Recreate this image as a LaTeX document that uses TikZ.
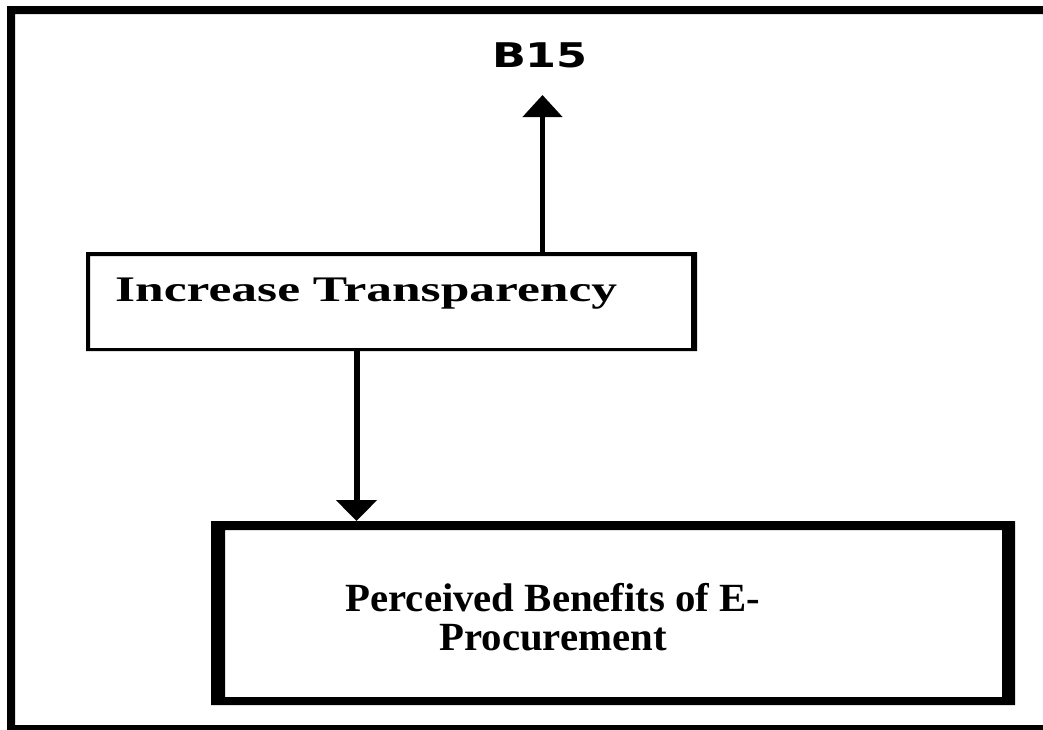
\documentclass[tikz,border=0pt]{standalone}
\usepackage{fontspec}
\setmainfont{Liberation Serif}
\newfontfamily\labelsans{DejaVu Sans}
\usetikzlibrary{arrows.meta}

\tikzset{
  frame/.style={fill=black, even odd rule},
  boxtext/.style={font=\bfseries\fontsize{36}{40}\selectfont, inner sep=0pt},
  bigtext/.style={font=\bfseries\fontsize{40}{40}\selectfont, inner sep=0pt, anchor=base},
  tagtext/.style={font=\labelsans\bfseries\fontsize{34}{40}\selectfont, inner sep=0pt},
  flow/.style={draw=black, line width=4.5pt, -{Triangle[length=22pt,width=39pt]}},
  boxshape/.style={rectangle, inner sep=0pt, outer sep=0pt}
}

\begin{document}
\begin{tikzpicture}[x=1pt, y=-1pt]
  \useasboundingbox (0,0) rectangle (1043,729);
  \clip (0,0) rectangle (1043,729);

  % outer frame (right and bottom edges run off the page)
  \fill[frame] (7,6) rectangle (1070,760) (15,14) rectangle (1060,725);

  % box: Increase Transparency
  \node[boxshape, minimum width=611pt, minimum height=99pt] (it) at (391.5,301.5) {};
  \fill[frame] (it.north west) rectangle (it.south east)
    ([xshift=4pt,yshift=-4pt]it.north west) rectangle ([xshift=-6pt,yshift=3pt]it.south east);
  \node[boxtext, anchor=base west] (itlabel) at (115,301) {\scalebox{1.43}[1]{Increase Transparency}};

  % box: Perceived Benefits of E-Procurement
  \node[boxshape, minimum width=804pt, minimum height=184pt] (pb) at (613,613) {};
  \fill[frame] (pb.north west) rectangle (pb.south east)
    ([xshift=14pt,yshift=-9pt]pb.north west) rectangle ([xshift=-13pt,yshift=8pt]pb.south east);
  \node[bigtext] (pblabela) at (553,611) {\scalebox{1.02}[1]{Perceived Benefits of E-}};
  \node[bigtext] (pblabelb) at (553,650) {\scalebox{1.02}[1]{Procurement}};

  % label B15
  \node[tagtext, anchor=base] (b15) at (540,67) {\scalebox{1.31}[1]{B15}};
  \coordinate (b15tip) at (542.5,95);

  % connectors
  \draw[flow] (542.5,0 |- it.north) -- (b15tip);
  \draw[flow, line width=6pt, -{Triangle[length=21pt,width=40pt]}] (356.5,0 |- it.south) -- (356.5,0 |- pb.north);
\end{tikzpicture}
\end{document}
